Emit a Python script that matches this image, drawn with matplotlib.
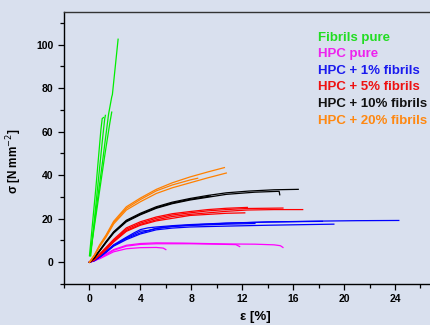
import matplotlib
matplotlib.use("Agg")
import matplotlib.pyplot as plt
from matplotlib.ticker import MultipleLocator

# strain [%] / stress [N mm^-2] curves, one tuple per specimen
fibrils_pure = [
    ([0.05, 0.5, 1.0, 1.5, 1.75, 1.8, 2.25], [3, 23, 45, 68, 76, 77, 102.5]),
    ([0.05, 0.6, 1.2, 1.6, 1.75], [3, 25, 49, 64, 69]),
    ([0.0, 0.5, 0.9, 1.0, 1.1], [3, 34, 61, 66, 66.5]),
    ([0.1, 0.6, 1.05, 1.2, 1.25], [3, 32, 58, 66, 67.5]),
]
hpc_pure = [
    ([0, 0.4, 0.8, 1.3, 1.9, 2.9, 4, 5.25, 7.3, 10.75, 13, 14.5, 15, 15.2],
     [0, 0.6, 2.0, 3.8, 5.8, 7.8, 8.6, 8.9, 8.8, 8.4, 8.3, 8.0, 7.6, 6.8]),
    ([0, 0.8, 1.9, 2.9, 4, 5.25, 7.9, 10, 11.5, 11.8],
     [0, 1.8, 5.5, 7.4, 8.2, 8.5, 8.5, 8.3, 8.1, 7.2]),
    ([0, 0.8, 1.9, 2.9, 4, 5.25, 5.8, 6.0],
     [0, 1.6, 4.8, 6.2, 6.7, 6.8, 6.5, 5.8]),
]
hpc_1 = [
    ([0, 0.4, 0.8, 1.3, 1.9, 2.9, 4, 5.25, 6.5, 7.9, 10.75, 14, 18, 21, 24.3],
     [0, 0.8, 2.5, 4.8, 7.8, 10.9, 13.5, 15.5, 16.5, 17.1, 17.9, 18.5, 18.9, 19.1, 19.2]),
    ([0, 0.4, 0.8, 1.3, 1.9, 2.9, 4, 5.25, 6.5, 7.9, 10.75, 14, 17, 19.2],
     [0, 0.7, 2.3, 4.5, 7.4, 10.4, 13.0, 14.9, 15.7, 16.2, 16.6, 17.0, 17.3, 17.5]),
    ([0, 0.8, 1.9, 2.9, 3.5, 4, 4.6, 5.25, 6.5, 7.9, 10.75, 14, 18.3],
     [0, 2.6, 8.0, 11.5, 13.5, 15.0, 15.8, 16.2, 16.8, 17.3, 18.0, 18.5, 18.8]),
    ([0, 0.8, 1.9, 2.9, 4, 4.6, 5.25, 6.5, 7.9, 10.75, 13],
     [0, 2.4, 7.6, 11.2, 14.3, 14.6, 15.6, 16.4, 16.9, 17.5, 17.8]),
]
hpc_5 = [
    ([0, 0.4, 0.8, 1.3, 1.9, 2.9, 4, 5.25, 6.5, 7.9, 9.3, 10.75, 12.4],
     [0, 1.3, 3.8, 6.8, 10.5, 15.8, 18.6, 20.8, 22.3, 23.3, 24.2, 24.8, 25.2]),
    ([0, 0.4, 0.8, 1.3, 1.9, 2.9, 4, 5.25, 6.5, 7.9, 9.3, 10.75, 12.4, 15.2],
     [0, 1.2, 3.5, 6.3, 10.0, 15.2, 18.0, 20.2, 21.7, 22.7, 23.6, 24.2, 24.7, 24.9]),
    ([0, 0.4, 0.8, 1.3, 1.9, 2.9, 4, 5.25, 6.5, 7.9, 9.3, 10.75, 12.4, 14.5, 16.75],
     [0, 1.1, 3.3, 6.0, 9.6, 14.6, 17.4, 19.5, 21.0, 22.0, 22.7, 23.4, 24.0, 24.2, 24.2]),
    ([0, 0.8, 1.3, 1.9, 2.9, 4, 5.25, 7.9, 10.75, 12.2],
     [0, 3.1, 5.8, 9.3, 14.2, 17.0, 19.0, 21.5, 22.5, 22.7]),
]
hpc_10 = [
    ([0, 0.4, 0.8, 1.3, 1.9, 2.9, 4, 5.25, 6.5, 7.9, 9.3, 10.75, 12.5, 14.5, 16.4],
     [0, 2.2, 5.5, 9.5, 14.0, 19.3, 22.5, 25.5, 27.6, 29.3, 30.7, 31.9, 32.7, 33.3, 33.5]),
    ([0, 0.4, 0.8, 1.3, 1.9, 2.9, 4, 5.25, 6.5, 7.9, 10.75, 13, 14.9, 14.95],
     [0, 2.0, 5.1, 9.0, 13.4, 18.6, 21.8, 24.8, 26.9, 28.6, 31.2, 32.2, 32.6, 31.0]),
    ([0, 0.8, 1.3, 1.9, 2.9, 4, 5.25, 6.5, 7.9, 9.5],
     [0, 5.3, 9.2, 13.7, 19.0, 22.1, 25.1, 27.2, 28.9, 30.4]),
]
hpc_20 = [
    ([0, 0.4, 0.8, 1.3, 1.9, 2.9, 4, 5.25, 6.5, 7.9, 9.3, 10.6],
     [0, 3.5, 8.0, 12.5, 18.8, 25.5, 29.5, 33.5, 36.5, 39.2, 41.5, 43.5]),
    ([0, 0.4, 0.8, 1.3, 1.9, 2.9, 4, 5.25, 6.5, 7.9, 8.5],
     [0, 3.3, 7.6, 12.0, 18.2, 24.8, 28.8, 32.8, 35.5, 37.8, 38.6]),
    ([0, 0.4, 0.8, 1.3, 1.9, 2.9, 4, 5.25, 6.5, 7.9, 9.3, 10.75],
     [0, 3.1, 7.2, 11.5, 17.6, 24.0, 27.8, 31.6, 34.2, 36.5, 38.8, 41.0]),
]

labels = ["Fibrils pure", "HPC pure", "HPC + 1% fibrils",
          "HPC + 5% fibrils", "HPC + 10% fibrils", "HPC + 20% fibrils"]
groups = [fibrils_pure, hpc_pure, hpc_1, hpc_5, hpc_10, hpc_20]
line_colors = ["#00ee00", "#ff00ff", "#0000ff", "#ff0000", "#000000", "#ff8000"]
text_colors = ["#22dd22", "#ee22ee", "#1a1aee", "#ee1111", "#111111", "#ff8811"]

bg = "#d9e0ee"
fig = plt.figure(figsize=(4.3, 3.25), dpi=100, facecolor=bg)
ax = fig.add_axes([64 / 430, 41 / 325, 366 / 430, 272 / 325])
ax.set_facecolor(bg)

for curves, col in zip(groups, line_colors):
    for eps, sig in curves:
        ax.plot(eps, sig, color=col, lw=0.9)

ax.set_xlim(-2, 26.75)
ax.set_ylim(-10, 115)
ax.xaxis.set_major_locator(MultipleLocator(4))
ax.xaxis.set_minor_locator(MultipleLocator(2))
ax.yaxis.set_major_locator(MultipleLocator(20))
ax.yaxis.set_minor_locator(MultipleLocator(10))
ax.set_xticks(range(0, 25, 4))
ax.tick_params(which="major", direction="out", length=4, width=0.9)
ax.tick_params(which="minor", direction="out", length=3, width=0.9)
ax.spines["right"].set_visible(False)
for s in ["left", "bottom", "top"]:
    ax.spines[s].set_linewidth(1.0)
ax.spines["top"].set_color("#333333")
for lab in ax.get_xticklabels() + ax.get_yticklabels():
    lab.set_fontfamily("Liberation Sans")
    lab.set_fontweight("bold")
    lab.set_fontsize(7.5)

for i, (lab, col) in enumerate(zip(labels, text_colors)):
    fig.text(318 / 430, 1 - (38 + 16.5 * i) / 325, lab, color=col,
             fontsize=9.5, fontweight="bold", family="Liberation Sans",
             ha="left", va="center")

fig.text(14 / 430, 1 - 161 / 325, "σ [N mm$^{-2}$]", rotation=90,
         fontsize=8.5, fontweight="bold", family="Liberation Sans",
         ha="center", va="center")
fig.text(255 / 430, 1 - 317 / 325, "ε [%]", fontsize=9.5, fontweight="bold",
         family="Liberation Sans", ha="center", va="center")

fig.savefig("out.png", dpi=100, facecolor=bg)
